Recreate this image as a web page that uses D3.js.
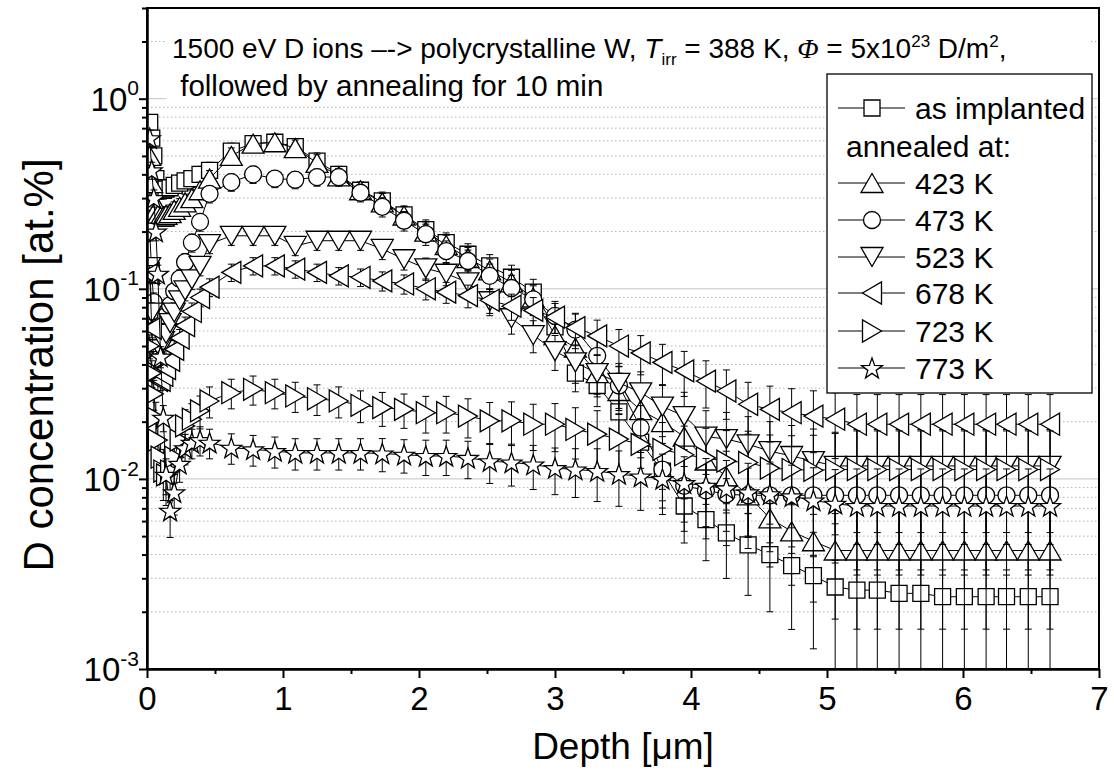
<!DOCTYPE html>
<html>
<head>
<meta charset="utf-8">
<script src="https://cdn.jsdelivr.net/npm/d3@7"></script>
<style>
  body { margin: 0; background: #fff; }
  svg text { font-family: "Liberation Sans", Arial, sans-serif; fill: #000; }
</style>
</head>
<body>
<div id="chart"></div>
<script>
// depth grid [um] : near surface points then the regular grid
const depth = [0.02, 0.035, 0.05, 0.065, 0.08, 0.10, 0.12, 0.14, 0.17, 0.20, 0.24, 0.28, 0.33, 0.39,
  0.46, 0.62, 0.78, 0.94, 1.09, 1.25, 1.41, 1.57, 1.73, 1.89, 2.05, 2.20, 2.36, 2.52, 2.68, 2.84, 3.00, 3.15, 3.31, 3.47,
  3.63, 3.79, 3.95, 4.11, 4.26, 4.42, 4.58, 4.74, 4.90, 5.06, 5.22, 5.37, 5.53, 5.69, 5.85, 6.01, 6.17, 6.32, 6.48, 6.64]

// D concentration [at.%]
const asImplanted = [0.75, 0.62, 0.50, 0.38, 0.34, 0.33, 0.33, 0.335, 0.34, 0.35, 0.36, 0.37, 0.38, 0.40,
  0.42, 0.53, 0.58, 0.59, 0.56, 0.47, 0.40, 0.33, 0.29, 0.245, 0.205, 0.175, 0.152, 0.132, 0.115, 0.096, 0.063, 0.036, 0.031, 0.0225,
  0.0156, 0.011, 0.0072, 0.0061, 0.0052, 0.0045, 0.0040, 0.0035, 0.0031, 0.0027, 0.0026, 0.0026, 0.0025, 0.0025, 0.0024, 0.0024, 0.0024, 0.0024, 0.0024, 0.0024]
const ann423 = [0.50, 0.36, 0.29, 0.26, 0.245, 0.24, 0.24, 0.245, 0.25, 0.26, 0.27, 0.285, 0.30, 0.33,
  0.38, 0.50, 0.58, 0.59, 0.55, 0.46, 0.39, 0.33, 0.285, 0.243, 0.20, 0.17, 0.145, 0.125, 0.108, 0.09, 0.057, 0.049, 0.036, 0.029,
  0.023, 0.0199, 0.0167, 0.0125, 0.0103, 0.0082, 0.0062, 0.0053, 0.0047, 0.0042, 0.0042, 0.0042, 0.0042, 0.0042, 0.0042, 0.0042, 0.0042, 0.0042, 0.0042, 0.0042]
const ann473 = [0.20, 0.12, 0.085, 0.07, 0.063, 0.062, 0.066, 0.072, 0.082, 0.097, 0.113, 0.138, 0.175, 0.225,
  0.316, 0.364, 0.40, 0.38, 0.375, 0.387, 0.387, 0.32, 0.27, 0.228, 0.194, 0.158, 0.14, 0.117, 0.101, 0.088, 0.072, 0.061, 0.0444, 0.031,
  0.0186, 0.0112, 0.0092, 0.0087, 0.0083, 0.0082, 0.0082, 0.0082, 0.0082, 0.0082, 0.0082, 0.0082, 0.0082, 0.0082, 0.0082, 0.0082, 0.0082, 0.0082, 0.0082, 0.0082]
const ann523 = [0.13, 0.075, 0.055, 0.048, 0.046, 0.048, 0.053, 0.058, 0.066, 0.075, 0.087, 0.098, 0.112, 0.132,
  0.172, 0.19, 0.19, 0.19, 0.168, 0.179, 0.179, 0.179, 0.162, 0.143, 0.128, 0.12, 0.108, 0.086, 0.07, 0.057, 0.047, 0.041, 0.036, 0.032,
  0.0285, 0.024, 0.0214, 0.0167, 0.0162, 0.0152, 0.014, 0.0132, 0.0124, 0.0117, 0.0117, 0.0117, 0.0117, 0.0117, 0.0117, 0.0117, 0.0117, 0.0117, 0.0117, 0.0117]
const ann678 = [0.12, 0.062, 0.042, 0.036, 0.033, 0.033, 0.035, 0.038, 0.042, 0.048, 0.055, 0.064, 0.076, 0.09,
  0.102, 0.122, 0.132, 0.132, 0.127, 0.122, 0.117, 0.115, 0.11, 0.106, 0.10, 0.096, 0.092, 0.087, 0.081, 0.077, 0.071, 0.0625, 0.0565, 0.05,
  0.046, 0.041, 0.037, 0.0327, 0.029, 0.0247, 0.0232, 0.0223, 0.0214, 0.0206, 0.0194, 0.0194, 0.0194, 0.0194, 0.0194, 0.0194, 0.0194, 0.0194, 0.0194, 0.0194]
const ann723 = [0.05, 0.036, 0.028, 0.021, 0.016, 0.013, 0.011, 0.0105, 0.011, 0.013, 0.016, 0.019, 0.0206, 0.0228,
  0.0257, 0.0284, 0.0296, 0.0284, 0.0273, 0.0264, 0.0257, 0.0244, 0.0237, 0.0232, 0.0223, 0.0223, 0.0214, 0.0202, 0.0202, 0.0194, 0.0194, 0.0182, 0.0172, 0.0162,
  0.0152, 0.0143, 0.0134, 0.0129, 0.0124, 0.0122, 0.0114, 0.0112, 0.0111, 0.0112, 0.0112, 0.0112, 0.0112, 0.0112, 0.0112, 0.0112, 0.0112, 0.0112, 0.0112, 0.0112]
const ann773 = [0.62, 0.42, 0.30, 0.20, 0.12, 0.044, 0.021, 0.0105, 0.0068, 0.0085, 0.012, 0.0145, 0.0155, 0.016,
  0.0155, 0.0146, 0.0143, 0.014, 0.0137, 0.0137, 0.0137, 0.0137, 0.0136, 0.0134, 0.0132, 0.0132, 0.0129, 0.0124, 0.0122, 0.0119, 0.0114, 0.0112, 0.011, 0.0106,
  0.0103, 0.01, 0.0095, 0.0092, 0.0089, 0.0085, 0.0083, 0.0081, 0.0077, 0.0074, 0.0072, 0.0072, 0.0072, 0.0072, 0.0072, 0.0072, 0.0072, 0.0072, 0.0072, 0.0072]

// relative uncertainty per depth point, plus an absolute part per series
const errRel = [0.1, 0.1, 0.1, 0.1, 0.1, 0.1, 0.1, 0.1, 0.1, 0.1, 0.1, 0.1, 0.1, 0.1,
  0.1, 0.1, 0.1, 0.1, 0.1, 0.1, 0.1, 0.1, 0.11, 0.11, 0.12, 0.12, 0.13, 0.14, 0.15, 0.16, 0.17, 0.18, 0.2, 0.21,
  0.22, 0.23, 0.25, 0.26, 0.27, 0.28, 0.3, 0.31, 0.33, 0.35, 0.4, 0.4, 0.4, 0.4, 0.4, 0.4, 0.4, 0.4, 0.4, 0.4]
const errAbs = [0.0008, 0.0009, 0.0016, 0.0018, 0.0006, 0.0022, 0.0012]

const seriesNames = ["as implanted", "423 K", "473 K", "523 K", "678 K", "723 K", "773 K"]
const seriesValues = [asImplanted, ann423, ann473, ann523, ann678, ann723, ann773]
const seriesSymbols = ["square", "up", "circle", "down", "left", "right", "star"]

const xTicks = [0, 1, 2, 3, 4, 5, 6, 7]
const yTickExp = [0, -1, -2, -3]

const width = 1114
const height = 774
const margin = {top: 8, right: 15, bottom: 105, left: 147}
const font = '"Liberation Sans", Arial, sans-serif'

const svg = d3.select("div#chart").append("svg")
  .attr("width", width).attr("height", height)

const x = d3.scaleLinear().domain([0, 7]).range([margin.left, width - margin.right])
const y = d3.scaleLog().domain([1e-3, 3]).range([height - margin.bottom, margin.top])

// grid
const grid = svg.append("g")
y.ticks().forEach(v => {
  const major = Math.abs(Math.log10(v) - Math.round(Math.log10(v))) < 1e-9
  if (v <= 1e-3) return
  grid.append("line")
    .attr("x1", x(0)).attr("x2", x(7))
    .attr("y1", y(v)).attr("y2", y(v))
    .attr("stroke", major ? "#c4c4c4" : "#b4b4b4")
    .attr("stroke-width", 1)
    .attr("stroke-dasharray", major ? null : "1.5,2.5")
})

// text box of the title (white, covers the grid)
svg.append("rect").attr("x", 166).attr("y", 10).attr("width", 924).attr("height", 94).attr("fill", "#fff")

svg.append("defs").append("clipPath").attr("id", "plotclip")
  .append("rect").attr("x", x(0)).attr("y", y(3)).attr("width", x(7) - x(0)).attr("height", y(1e-3) - y(3))

// marker shapes
function markerPath(type) {
  const p = d3.path()
  if (type === "square") { p.rect(-8, -8, 16, 16) }
  else if (type === "circle") { p.arc(0, 0, 8.5, 0, 2 * Math.PI) }
  else if (type === "up") { p.moveTo(0, -9.5); p.lineTo(11, 9.5); p.lineTo(-11, 9.5); p.closePath() }
  else if (type === "down") { p.moveTo(0, 9.5); p.lineTo(11, -9.5); p.lineTo(-11, -9.5); p.closePath() }
  else if (type === "left") { p.moveTo(-9.5, 0); p.lineTo(9.5, -11); p.lineTo(9.5, 11); p.closePath() }
  else if (type === "right") { p.moveTo(9.5, 0); p.lineTo(-9.5, -11); p.lineTo(-9.5, 11); p.closePath() }
  else if (type === "star") {
    for (let k = 0; k < 10; k++) {
      const r = k % 2 === 0 ? 11 : 4.4
      const a = -Math.PI / 2 + k * Math.PI / 5
      if (k === 0) p.moveTo(r * Math.cos(a), r * Math.sin(a) + 1)
      else p.lineTo(r * Math.cos(a), r * Math.sin(a) + 1)
    }
    p.closePath()
  }
  return p.toString()
}

const plot = svg.append("g").attr("clip-path", "url(#plotclip)")
const line = d3.line().x(d => x(d.x)).y(d => y(d.v))

seriesValues.forEach((vals, s) => {
  const data = vals.map((v, i) => {
    const e = v * errRel[i] + errAbs[s]
    return {x: depth[i], v: v, lo: Math.max(v - e, 1e-4), hi: v + e}
  })
  const g = plot.append("g").attr("class", "series")
  g.append("path").datum(data)
    .attr("d", line).attr("fill", "none").attr("stroke", "#000").attr("stroke-width", 1)
  const eb = g.append("g").selectAll("g").data(data).enter().append("g")
  eb.append("line")
    .attr("x1", d => x(d.x)).attr("x2", d => x(d.x))
    .attr("y1", d => y(d.lo)).attr("y2", d => y(d.hi))
    .attr("stroke", "#000").attr("stroke-width", 1)
  eb.append("line")
    .attr("x1", d => x(d.x) - 3.5).attr("x2", d => x(d.x) + 3.5)
    .attr("y1", d => y(d.hi)).attr("y2", d => y(d.hi))
    .attr("stroke", "#000").attr("stroke-width", 1)
  eb.append("line")
    .attr("x1", d => x(d.x) - 3.5).attr("x2", d => x(d.x) + 3.5)
    .attr("y1", d => y(d.lo)).attr("y2", d => y(d.lo))
    .attr("stroke", "#000").attr("stroke-width", 1)
  g.append("g").selectAll("path").data(data).enter().append("path")
    .attr("d", markerPath(seriesSymbols[s]))
    .attr("transform", d => `translate(${x(d.x)},${y(d.v)})`)
    .attr("fill", "#fff").attr("stroke", "#000").attr("stroke-width", 1.3)
})

// frame
svg.append("rect").attr("x", x(0)).attr("y", y(3)).attr("width", x(7) - x(0)).attr("height", y(1e-3) - y(3))
  .attr("fill", "none").attr("stroke", "#000").attr("stroke-width", 2)

// axes
const xAxis = d3.axisBottom(x).tickValues(xTicks).tickSize(9).tickSizeOuter(0).tickPadding(8).tickFormat(d3.format("d"))
const xMinor = d3.axisBottom(x).tickValues(d3.range(0.5, 7, 1)).tickSize(5).tickSizeOuter(0).tickFormat("")
const xAxisGroup = svg.append("g").attr("transform", `translate(0,${y(1e-3)})`).call(xAxis)
svg.append("g").attr("transform", `translate(0,${y(1e-3)})`).call(xMinor)
xAxisGroup.selectAll("text").attr("font-size", 33).attr("font-family", font).attr("dy", "0.72em")

const yMajorVals = yTickExp.map(e => Math.pow(10, e))
const yMinorVals = y.ticks().filter(v => !yMajorVals.some(m => Math.abs(m - v) < 1e-12))
const yAxis = d3.axisLeft(y).tickValues(yMajorVals).tickSize(8).tickSizeOuter(0).tickPadding(8).tickFormat("")
const yMinor = d3.axisLeft(y).tickValues(yMinorVals).tickSize(5).tickSizeOuter(0).tickFormat("")
const yAxisGroup = svg.append("g").attr("transform", `translate(${x(0)},0)`).call(yAxis)
svg.append("g").attr("transform", `translate(${x(0)},0)`).call(yMinor)
yAxisGroup.selectAll(".tick text").each(function(d, i) {
  const t = d3.select(this).attr("font-size", 33).attr("font-family", font).attr("dy", "0.36em").attr("x", -8)
  t.append("tspan").text("10")
  t.append("tspan").attr("font-size", 21).attr("dy", "-0.75em").text(yTickExp[i])
})
svg.selectAll(".domain").attr("stroke", "#000").attr("stroke-width", 2)
svg.selectAll(".tick line").attr("stroke", "#000").attr("stroke-width", 2)

// axis titles
svg.append("text").attr("x", (x(0) + x(7)) / 2).attr("y", 759).attr("text-anchor", "middle")
  .attr("font-size", 37).text("Depth [\u03bcm]")
svg.append("text").attr("transform", "translate(53,365) rotate(-90)")
  .attr("text-anchor", "middle").attr("font-size", 42).text("D concentration [at.%]")

// title
const t1 = svg.append("text").attr("x", 172).attr("y", 58).attr("font-size", 28)
t1.append("tspan").text("1500 eV D ions \u2013-> polycrystalline W, ")
t1.append("tspan").attr("font-style", "italic").text("T")
t1.append("tspan").attr("font-size", 17).attr("dy", 7).text("irr")
t1.append("tspan").attr("dy", -7).text(" = 388 K, ")
t1.append("tspan").attr("font-style", "italic").attr("font-family", '"Liberation Serif", serif').text("\u03a6")
t1.append("tspan").text(" = 5x10")
t1.append("tspan").attr("font-size", 17).attr("dy", -11).text("23")
t1.append("tspan").attr("dy", 11).text(" D/m")
t1.append("tspan").attr("font-size", 17).attr("dy", -11).text("2")
t1.append("tspan").attr("dy", 11).text(",")
svg.append("text").attr("x", 172).attr("y", 96).attr("font-size", 29.5)
  .text("\u00a0followed by annealing for 10 min")

// legend
const lg = svg.append("g")
lg.append("rect").attr("x", 827).attr("y", 74).attr("width", 265).attr("height", 319)
  .attr("fill", "#fff").attr("stroke", "#000").attr("stroke-width", 1.3)
const rowY = [108, 183, 220, 257, 293, 331, 368]
seriesNames.forEach((name, s) => {
  const cy = rowY[s]
  lg.append("line").attr("x1", 838).attr("x2", 905).attr("y1", cy).attr("y2", cy)
    .attr("stroke", "#000").attr("stroke-width", 1)
  lg.append("path").attr("d", markerPath(seriesSymbols[s]))
    .attr("transform", `translate(872,${cy})`)
    .attr("fill", "#fff").attr("stroke", "#000").attr("stroke-width", 1.3)
  lg.append("text").attr("x", 915).attr("y", cy + 11).attr("font-size", 30).text(name)
})
lg.append("text").attr("x", 846).attr("y", 157).attr("font-size", 30).text("annealed at:")
</script>
</body>
</html>
